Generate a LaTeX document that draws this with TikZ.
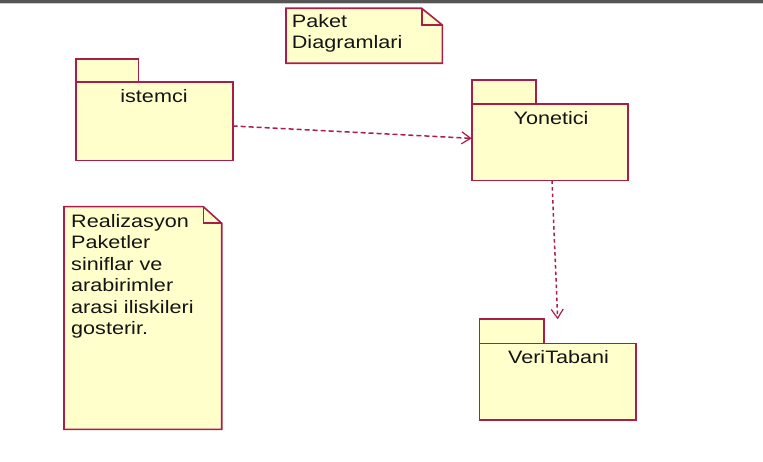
\documentclass[tikz,border=0pt]{standalone}
\usepackage{fontspec}
\setmainfont{Liberation Sans}[FakeStretch=1.2]
\usetikzlibrary{arrows.meta}
\definecolor{umlline}{RGB}{168,30,72}
\definecolor{umlfill}{RGB}{255,255,204}
\definecolor{txt}{RGB}{20,20,20}
\definecolor{barcol}{RGB}{85,85,85}
\begin{document}
\begin{tikzpicture}[x=1pt,y=-1pt,
  umlshape/.style={draw=umlline, fill=umlfill, line width=1.6pt, line join=miter},
  pkgbody/.style={umlshape, rectangle, inner sep=0pt, outer sep=0pt, anchor=north west},
  lbl/.style={text=txt, inner sep=0pt, anchor=base, font=\fontsize{18}{21.5}\selectfont},
  notetext/.style={text=txt, inner sep=0pt, anchor=north west, align=left, font=\fontsize{18}{21.4}\selectfont},
  dep/.style={draw=umlline, line width=1.5pt, -{Straight Barb[length=9pt,width=12pt,line width=1.2pt]}}
]
\useasboundingbox (0,0) rectangle (763,462);
\fill[barcol] (0,0) rectangle (763,2.6);
\fill[gray!40] (0,2.6) rectangle (763,3.6);

% note: Paket Diagramlari
\path[umlshape] (286,8.3) -- (421.7,8.3) -- (442.3,25) -- (442.3,63.3) -- (286,63.3) -- cycle;
\draw[umlshape, fill=none] (421.7,8.3) -- (421.7,25) -- (442.3,25);
\node[notetext] (note1) at (291.7,14.3) {Paket\\Diagramlari};

% note: Realizasyon
\path[umlshape] (64,206.7) -- (203.3,206.7) -- (221.7,223.3) -- (221.7,429.3) -- (64,429.3) -- cycle;
\draw[umlshape, fill=none] (203.3,206.7) -- (203.3,223.3) -- (221.7,223.3);
\node[notetext] (note2) at (71,214.2) {Realizasyon\\Paketler\\siniflar ve\\arabirimler\\arasi iliskileri\\gosterir.};

% package istemci
\path[umlshape] (75.7,59.3) rectangle (138.3,82.3);
\node[pkgbody, minimum width=157pt, minimum height=78.4pt] (ist) at (75.7,82.3) {};
\node[lbl] (istlbl) at (154,103) {istemci};

% package Yonetici
\path[umlshape] (471.7,80) rectangle (535.7,104);
\node[pkgbody, minimum width=156pt, minimum height=76.7pt] (yon) at (471.7,104) {};
\node[lbl] (yonlbl) at (551,125) {Yonetici};

% package VeriTabani
\path[umlshape] (479.3,319.3) rectangle (544,343.3);
\node[pkgbody, minimum width=156.7pt, minimum height=76.7pt] (ver) at (479.3,343.3) {};
\node[lbl] (verlbl) at (558.5,363) {VeriTabani};

% dependencies
\draw[dep, dash pattern=on 5pt off 3pt] ([yshift=-4.5pt]ist.east) -- ([yshift=4pt]yon.west);
\draw[dep, dash pattern=on 3.5pt off 3pt] ([xshift=2.3pt]yon.south) -- ([yshift=24pt]ver.north);
\end{tikzpicture}
\end{document}
